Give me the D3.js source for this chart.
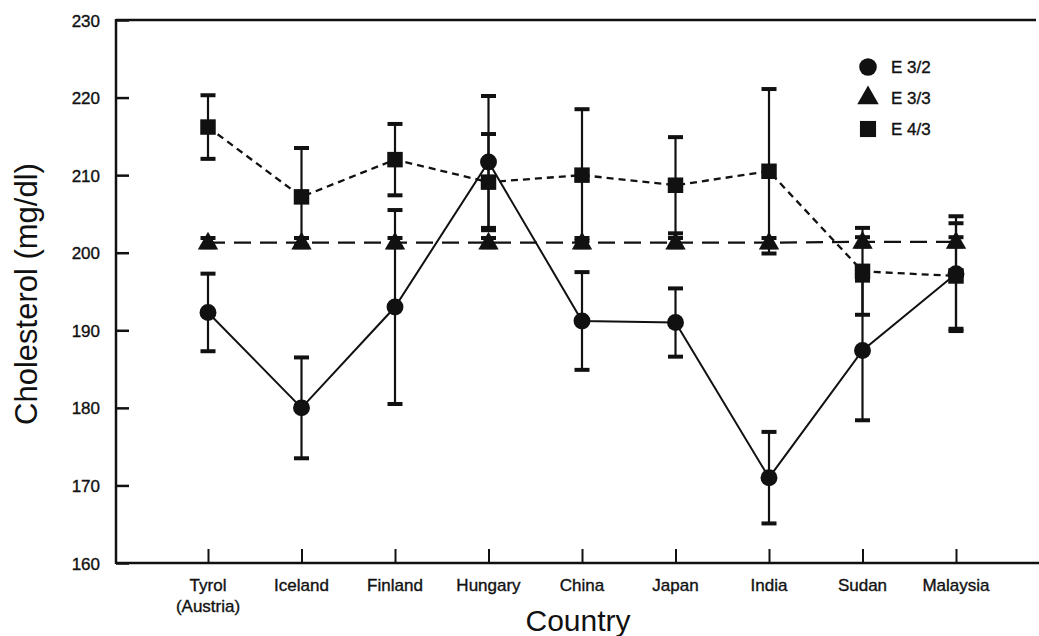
<!DOCTYPE html>
<html>
<head>
<meta charset="utf-8">
<script src="https://cdn.jsdelivr.net/npm/d3@7"></script>
<style>
  body { margin: 0; background: #fff; }
  svg { display: block; font-family: "Liberation Sans", Arial, sans-serif; }
  .lbl { stroke: #111; stroke-width: 0.35px; }
</style>
</head>
<body>
<svg></svg>
<script>
const width = 1039;
const height = 636;

// categories (Tyrol label has two lines)
const countries = ['Tyrol', 'Iceland', 'Finland', 'Hungary', 'China', 'Japan', 'India', 'Sudan', 'Malaysia'];
const subLabels = ['(Austria)', '', '', '', '', '', '', '', ''];

// series values (mean, +/- error)
const e32Mean = [192.3, 180.0, 193.0, 211.7, 191.2, 191.0, 171.0, 187.4, 197.3];
const e32Err  = [5.0, 6.5, 12.5, 8.5, 6.3, 4.4, 5.9, 9.0, 7.4];
const e33Mean = [201.3, 201.3, 201.3, 201.3, 201.3, 201.3, 201.3, 201.4, 201.4];
const e33Err  = [0.6, 0.6, 0.6, 0.6, 0.6, 0.6, 0.6, 0.6, 0.6];
const e43Mean = [216.2, 207.2, 212.0, 209.1, 210.0, 208.7, 210.5, 197.6, 197.0];
const e43Err  = [4.1, 6.3, 4.6, 6.2, 8.5, 6.2, 10.6, 5.6, 6.8];

const seriesNames = ['E 3/2', 'E 3/3', 'E 4/3'];
const yTicks = [160, 170, 180, 190, 200, 210, 220, 230];

const ink = '#111';
const plotLeft = 116, plotTop = 20, plotBottom = 563;

const svg = d3.select('svg')
    .attr('width', width).attr('height', height);

const x = d3.scalePoint()
    .domain(countries)
    .range([208, 956]);

const y = d3.scaleLinear()
    .domain([160, 230])
    .range([plotBottom, plotTop]);

const series = [
    {name: seriesNames[0], mean: e32Mean, err: e32Err, shape: 'circle', dash: null},
    {name: seriesNames[1], mean: e33Mean, err: e33Err, shape: 'triangle', dash: '17,9'},
    {name: seriesNames[2], mean: e43Mean, err: e43Err, shape: 'square', dash: '7,5'}
];

// axes
const yAxis = d3.axisLeft(y)
    .tickValues(yTicks)
    .tickSize(-13)
    .tickFormat(d3.format('d'));

const gy = svg.append('g')
    .attr('transform', `translate(${plotLeft},0)`)
    .call(yAxis);
gy.select('.domain').remove();
gy.selectAll('.tick line').attr('stroke', ink).attr('stroke-width', 2.5);
gy.selectAll('.tick text')
    .attr('class', 'lbl')
    .attr('fill', ink)
    .style('font-size', '17px')
    .attr('text-anchor', 'end')
    .attr('x', -16)
    .attr('dy', '0.36em');

const xAxis = d3.axisBottom(x)
    .tickSize(-14)
    .tickFormat('');

const gx = svg.append('g')
    .attr('transform', `translate(0,${plotBottom})`)
    .call(xAxis);
gx.select('.domain').remove();
gx.selectAll('.tick line').attr('stroke', ink).attr('stroke-width', 2);

// frame: left, top and bottom lines
svg.append('line').attr('x1', plotLeft).attr('x2', plotLeft).attr('y1', plotTop - 1).attr('y2', plotBottom + 1)
    .attr('stroke', ink).attr('stroke-width', 2.5);
svg.append('line').attr('x1', plotLeft).attr('x2', 1036).attr('y1', plotTop).attr('y2', plotTop)
    .attr('stroke', ink).attr('stroke-width', 2.5);
svg.append('line').attr('x1', plotLeft).attr('x2', width).attr('y1', plotBottom).attr('y2', plotBottom)
    .attr('stroke', ink).attr('stroke-width', 2.5);

// category labels
const labels = svg.append('g')
    .selectAll('text')
    .data(countries)
    .enter().append('text')
    .attr('class', 'lbl')
    .attr('x', d => x(d))
    .attr('y', 591)
    .attr('text-anchor', 'middle')
    .attr('fill', ink)
    .style('font-size', '17px');
labels.append('tspan').text(d => d);
labels.append('tspan')
    .attr('x', d => x(d))
    .attr('dy', 21)
    .text((d, i) => subLabels[i]);

// axis titles
svg.append('text')
    .attr('x', 578).attr('y', 631)
    .attr('text-anchor', 'middle')
    .attr('fill', ink)
    .style('font-size', '30px')
    .text('Country');

svg.append('text')
    .attr('transform', 'translate(37,294) rotate(-90)')
    .attr('text-anchor', 'middle')
    .attr('fill', ink)
    .style('font-size', '31px')
    .text('Cholesterol (mg/dl)');

// connecting lines
const line = d3.line()
    .x((d, i) => x(countries[i]))
    .y(d => y(d));

series.slice().reverse().forEach(s => {
    svg.append('path')
        .datum(s.mean)
        .attr('d', line)
        .attr('fill', 'none')
        .attr('stroke', ink)
        .attr('stroke-width', s.dash ? 2.3 : 2)
        .attr('stroke-dasharray', s.dash);
});

// error bars
series.forEach(s => {
    const g = svg.append('g');
    s.mean.forEach((m, i) => {
        const cx = x(countries[i]);
        g.append('line')
            .attr('x1', cx).attr('x2', cx)
            .attr('y1', y(m + s.err[i])).attr('y2', y(m - s.err[i]))
            .attr('stroke', ink).attr('stroke-width', 2.2);
        [m + s.err[i], m - s.err[i]].forEach(v => {
            g.append('line')
                .attr('x1', cx - 7.5).attr('x2', cx + 7.5)
                .attr('y1', y(v)).attr('y2', y(v))
                .attr('stroke', ink).attr('stroke-width', 4);
        });
    });
});

// markers
const symbolSize = {circle: 225, triangle: 180, square: 240};
function symbolType(shape) {
    if (shape === 'circle') return d3.symbolCircle;
    if (shape === 'triangle') return d3.symbolTriangle;
    return d3.symbolSquare;
}

series.forEach(s => {
    svg.append('g')
        .selectAll('path')
        .data(s.mean)
        .enter().append('path')
        .attr('transform', (d, i) => `translate(${x(countries[i])},${y(d) + (s.shape === 'triangle' ? 1 : 0)})`)
        .attr('d', d3.symbol().type(symbolType(s.shape)).size(symbolSize[s.shape]))
        .attr('fill', ink);
});

// legend
const legend = svg.append('g')
    .selectAll('g')
    .data(series)
    .enter().append('g')
    .attr('transform', (d, i) => `translate(868,${67 + i * 31})`);

legend.append('path')
    .attr('d', d => d3.symbol().type(symbolType(d.shape)).size(symbolSize[d.shape] + 20)())
    .attr('fill', ink);

legend.append('text')
    .attr('class', 'lbl')
    .attr('x', 23)
    .attr('dy', '0.36em')
    .attr('fill', ink)
    .style('font-size', '17px')
    .text(d => d.name);
</script>
</body>
</html>
